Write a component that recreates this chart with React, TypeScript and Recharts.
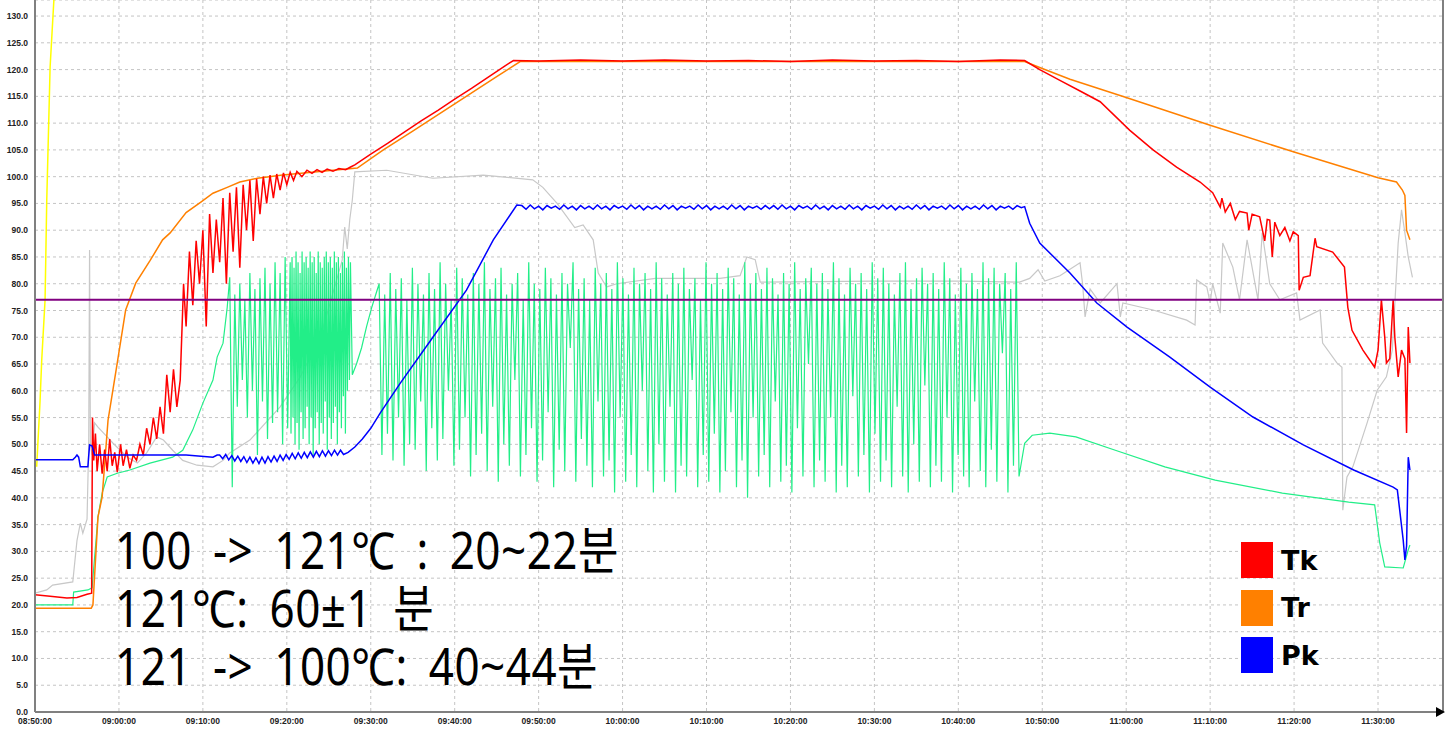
import React from 'react';
import {
  LineChart, Line, XAxis, YAxis, CartesianGrid, ReferenceLine, ReferenceDot,
} from 'recharts';

// ---------------------------------------------------------------------------
// Axes (x = minutes after 08:50:00)
// ---------------------------------------------------------------------------

const X_MAX = 167.74;
const Y_MAX = 133;
const X_TICKS = [0, 10, 20, 30, 40, 50, 60, 70, 80, 90, 100, 110, 120, 130, 140, 150, 160];
const X_TICK_LABELS = [
  '08:50:00', '09:00:00', '09:10:00', '09:20:00', '09:30:00', '09:40:00', '09:50:00',
  '10:00:00', '10:10:00', '10:20:00', '10:30:00', '10:40:00', '10:50:00',
  '11:00:00', '11:10:00', '11:20:00', '11:30:00',
];
const Y_TICKS = [0, 5, 10, 15, 20, 25, 30, 35, 40, 45, 50, 55, 60, 65, 70, 75, 80, 85, 90, 95, 100, 105, 110, 115, 120, 125, 130];
const SETPOINT = 77;

// ---------------------------------------------------------------------------
// Series  [minute, value]
// ---------------------------------------------------------------------------

const YELLOW: [number, number][] = [
  [0.2, 45.8], [0.6, 58], [0.8, 65.7], [1.2, 77], [1.4, 95.6], [1.8, 120.5], [2.25, 133],
];

const GRAY: [number, number][] = [
  [0, 22.2], [1.4, 22.8], [2.1, 23.7], [4.5, 24.3], [5.0, 32], [5.4, 35.3], [5.7, 33.4],
  [6.2, 36], [6.4, 50], [6.5, 86.3], [6.6, 50], [6.8, 48], [7.1, 54], [7.5, 53.2],
  [8.6, 51.4], [9.3, 50.2], [11.0, 47.6], [12.2, 46.5], [13.3, 48.4], [14.5, 51.4],
  [15.3, 50.8], [16.4, 48.9], [17.6, 47], [19.3, 46.1], [21.2, 45.8], [22.4, 47],
  [23.2, 48.4], [25.6, 50.8], [29.2, 57], [31.6, 62.6], [34.0, 70], [35.5, 78.3],
  [36.6, 84.4], [36.9, 90.6], [37.2, 86.5], [37.5, 92], [37.8, 95.6], [38.1, 100.9],
  [41.9, 101.2], [47.4, 99.7], [53.4, 100.3], [59.3, 99.4], [60.5, 98], [62.2, 95],
  [64.3, 90.5], [65.3, 91], [66.5, 88.2], [67.1, 82], [68.1, 79.4], [69.3, 80],
  [73.9, 81], [81.6, 81], [84.0, 81.5], [84.8, 85], [85.8, 84.5], [86.4, 80.3],
  [99.8, 80.5], [110.5, 80.5], [117.3, 80.3], [118.5, 81], [119.5, 82.6], [120.3, 80.5],
  [122.1, 81.5], [124.5, 83.9], [124.8, 80], [125.1, 73.8], [125.7, 79], [126.9, 76.4],
  [128.9, 80], [129.3, 73.8], [129.6, 76.4], [133.2, 75.1], [137.2, 73.2], [138.2, 72.3],
  [138.4, 80.7], [139.6, 79.4], [140.0, 76.4], [140.3, 80], [141.2, 74.5], [141.5, 87.6],
  [142.7, 83.1], [143.5, 77], [144.4, 88.2], [145.7, 77], [146.2, 89.5], [147.1, 80],
  [148.3, 77], [150.3, 78.3], [150.7, 73.2], [153.1, 75.1], [153.4, 68.9], [155.1, 65.2],
  [155.7, 64.4], [155.8, 37.7], [156.3, 43.9], [157.0, 45.8], [158.7, 54], [159.9, 60.1],
  [161.0, 62.6], [161.7, 67.6], [162.4, 87.6], [162.8, 93.8], [163.2, 89.5], [163.6, 85],
  [164.1, 81.2],
];

// green: ramp, then cycling, then cool-down
const GREEN_START: [number, number][] = [
  [0, 20], [4.5, 20], [4.6, 22.4], [6.3, 22.8], [6.8, 23.2], [7.5, 36.4], [8.0, 40.9],
  [8.6, 43.9], [9.8, 44.6], [11.3, 45.2], [13.7, 46.5], [16.4, 47.6], [17.6, 48.9],
  [18.8, 52.7], [20.0, 57.7], [21.2, 62], [21.7, 66.3], [22.4, 68.9], [22.9, 75.6], [23.2, 81.2],
];
const GREEN_CYCLE_A_START = 23.5;
const GREEN_CYCLE_A_STEP = 0.3;
const GREEN_CYCLE_A = [
  42, 78, 57, 80, 62, 77, 55, 82, 60, 79, 48, 81, 58, 83, 51, 80, 54, 84, 56, 82, 50, 85, 53, 84,
];
const GREEN_DENSE_START = 30.5;
const GREEN_DENSE_STEP = 0.12;
const GREEN_DENSE = [
  52, 85, 55, 83, 50, 86, 54, 84, 49, 82, 56, 86, 51, 84, 53, 85, 57, 83, 50, 86,
  55, 84, 48, 85, 53, 82, 56, 86, 50, 84, 54, 83, 52, 85, 58, 86, 49, 84, 55, 85,
  51, 83, 54, 86, 57, 84, 50, 85, 56, 82, 53, 84, 59, 86, 52, 83, 60, 85, 62, 84,
];
const GREEN_BRIDGE: [number, number][] = [
  [37.8, 63], [38.3, 65], [38.9, 68], [39.5, 72], [40.1, 75.5], [40.7, 78.5],
];
const GREEN_CYCLE_B_START = 41.0;
const GREEN_CYCLE_B_STEP = 0.33;
const GREEN_CYCLE_B = [
  80, 48, 78, 52, 82, 47, 79, 55, 81, 46, 77, 50, 83, 49, 80, 58, 78, 45, 82, 53,
  79, 47, 84, 51, 80, 60, 77, 46, 83, 49, 81, 55, 78, 44, 82, 48, 80, 52, 84, 45,
  79, 57, 81, 43, 83, 50, 78, 46, 80, 62, 82, 44, 77, 48, 84, 53, 80, 43, 79, 47,
  83, 56, 81, 42, 78, 49, 82, 45, 80, 68, 84, 43, 79, 51, 81, 46, 77, 42, 83, 58,
  80, 44, 82, 47, 79, 41, 84, 55, 81, 43, 78, 48, 83, 42, 80, 60, 82, 45, 79, 41,
  84, 50, 81, 43, 78, 57, 82, 41, 80, 46, 83, 44, 79, 62, 81, 42, 77, 48, 84, 43,
  80, 52, 82, 41, 79, 45, 83, 56, 81, 42, 78, 47, 84, 40, 80, 55, 82, 44, 79, 48,
  83, 42, 81, 58, 78, 43, 82, 46, 80, 41, 84, 53, 79, 44, 81, 65, 83, 42, 80, 47,
  82, 43, 79, 55, 84, 41, 81, 46, 78, 42, 83, 59, 80, 44, 82, 48, 79, 41, 84, 52,
  81, 43, 83, 47, 80, 42, 78, 57, 82, 44, 84, 41, 79, 50, 81, 43, 83, 61, 80, 42,
  82, 46, 79, 43, 84, 55, 81, 41, 78, 48, 83, 44, 80, 42, 82, 58, 79, 45, 84, 42,
  81, 49, 83, 43, 80, 67, 82, 41, 79, 46, 84, 44,
];
const GREEN_END: [number, number][] = [
  [117.9, 50.2], [118.8, 51.7], [120.9, 52.1], [124.0, 51.4], [128.7, 48.9], [134.6, 45.8],
  [140.6, 43.3], [148.6, 40.9], [156.5, 39.2], [159.6, 38.7], [160.2, 31.6], [160.8, 27.1],
  [163.0, 26.9], [163.6, 30.3], [163.8, 31.2],
];

const TK: [number, number][] = [
  [0, 21.9], [1.8, 21.6], [3.8, 21.3], [5.0, 21.4], [6.2, 22], [6.75, 22.2], [6.85, 55],
  [7.0, 47], [7.2, 52], [7.4, 45], [7.7, 50], [8.0, 44.5], [8.3, 49], [8.6, 45], [8.9, 51],
  [9.2, 46], [9.5, 48.5], [9.8, 44.8], [10.2, 50], [10.5, 46], [10.9, 49], [11.3, 45.5],
  [11.7, 48], [12.1, 47], [12.5, 50], [12.9, 48], [13.3, 53], [13.7, 50], [14.1, 55],
  [14.5, 51], [14.9, 57], [15.3, 52], [15.7, 63], [16.1, 56], [16.5, 64], [16.9, 57],
  [17.3, 62], [17.7, 80], [18.0, 72], [18.4, 86], [18.8, 76], [19.2, 88], [19.6, 80],
  [20.0, 90], [20.4, 72], [20.8, 93], [21.2, 82], [21.6, 92], [22.0, 84], [22.4, 96],
  [22.8, 80], [23.2, 97], [23.6, 86], [24.0, 98], [24.4, 83], [24.8, 98.5], [25.2, 90],
  [25.6, 99.3], [26.0, 88], [26.4, 99.6], [26.8, 93], [27.2, 100], [27.6, 95], [28.0, 100.3],
  [28.4, 96], [28.8, 100.5], [29.2, 97.5], [29.6, 100.7], [30.0, 98.5], [30.4, 100.8],
  [30.8, 99.3], [31.2, 101], [31.8, 100], [32.4, 101.2], [33.0, 100.6], [33.6, 101.3],
  [34.2, 100.8], [34.8, 101.4], [35.5, 101], [36.2, 101.5], [37.0, 101.3], [37.6, 101.8],
  [38.1, 102.2], [40, 104.2], [42, 106.2], [44, 108.3], [46, 110.4], [48, 112.4],
  [50, 114.5], [52, 116.5], [54, 118.6], [56, 120.7], [57, 121.7], [60, 121.6], [65, 121.8],
  [70, 121.6], [75, 121.8], [80, 121.6], [85, 121.7], [90, 121.5], [95, 121.8], [100, 121.6],
  [105, 121.7], [110, 121.5], [115, 121.8], [117.9, 121.7], [119.7, 120], [122.1, 118],
  [124.5, 116], [126.9, 114], [130.4, 108.7], [133.2, 105], [136.0, 101.8], [138.8, 99],
  [140.3, 97], [141.2, 94.3], [141.4, 96], [141.8, 93.4], [142.4, 95], [143.0, 92],
  [143.5, 93.5], [144.4, 93.2], [144.6, 90], [145.0, 93], [145.9, 92.5], [146.5, 88],
  [146.8, 92], [147.1, 91.9], [147.4, 85], [147.7, 91.5], [148.3, 89], [148.9, 90.5],
  [149.5, 88], [149.9, 89.7], [150.5, 89], [150.6, 78.8], [151.1, 81.2], [151.9, 81.5],
  [152.5, 88.5], [152.7, 86.9], [154.6, 85.9], [156.0, 83.1], [156.4, 75.6], [156.9, 71.3],
  [158.2, 67.6], [159.6, 64.4], [160.0, 67.6], [160.4, 77], [160.8, 70], [161.0, 65.2],
  [161.4, 66], [161.8, 77], [162.0, 70], [162.4, 62.6], [162.8, 67.6], [163.2, 66],
  [163.4, 52.1], [163.6, 71.9], [163.8, 65.2],
];

const TR: [number, number][] = [
  [0, 19.4], [6.7, 19.4], [6.9, 20], [7.5, 36.4], [8.0, 40.2], [8.7, 54.5], [9.8, 65.2],
  [10.8, 75.1], [12.0, 80.1], [13.7, 84.3], [15.2, 88.2], [16.1, 89.5], [18.0, 93.3],
  [19.8, 95.3], [21.2, 96.9], [22.9, 98], [24.4, 99], [26.5, 99.7], [29.5, 100.3],
  [35.5, 101.2], [38.4, 101.6], [40.3, 103.7], [41.5, 105], [45, 108.5], [50, 113.6],
  [55, 118.7], [57.8, 121.5], [117.9, 121.5], [120, 120.2], [123.3, 118.2], [130, 114.8],
  [140, 109.6], [150, 104.6], [160, 99.8], [162.2, 99], [162.9, 97.5], [163.2, 96.5],
  [163.4, 90], [163.8, 88.2],
];

const PK_START: [number, number][] = [
  [0, 47.1], [4.5, 47.1], [4.8, 47.6], [5.0, 48], [5.2, 47.6], [5.4, 45.8], [6.3, 45.8],
  [6.5, 49.9], [6.8, 49.7], [7.1, 48], [12, 48], [18, 48], [21.2, 47.6], [21.7, 48],
];
const PK_RIPPLE_START = 22.0;
const PK_RIPPLE_STEP = 0.36;
const PK_RIPPLE = [
  48.0, 47.3, 48.1, 47.1, 47.9, 46.9, 47.8, 46.8, 47.7, 46.6, 47.6, 46.5, 47.5, 46.4,
  47.6, 46.5, 47.7, 46.7, 47.8, 46.8, 48.0, 47.0, 48.1, 47.2, 48.3, 47.3, 48.4, 47.4,
  48.5, 47.5, 48.6, 47.6, 48.7, 47.7, 48.8, 47.8, 48.8, 47.9, 48.9, 48.0, 48.9, 48.1,
];
const PK_RISE: [number, number][] = [
  [37.3, 48.5], [38.1, 49.5], [39.0, 51], [40.0, 53], [41.1, 55.8], [43.5, 61.4],
  [47.4, 70], [51.4, 78.8], [54.6, 88.2], [57.4, 94.7],
];
const PK_PLATEAU_START = 58.0;
const PK_PLATEAU_STEP = 0.5;
const PK_PLATEAU = [
  94.6, 93.9, 94.7, 94.0, 94.5, 93.8, 94.6, 94.1, 94.5, 93.9, 94.7, 94.0, 94.5, 93.8, 94.6,
  94.0, 94.5, 93.9, 94.7, 94.0, 94.5, 93.8, 94.6, 94.1, 94.5, 93.9, 94.7, 94.0, 94.6, 93.8,
  94.5, 94.0, 94.5, 93.9, 94.7, 94.0, 94.6, 93.8, 94.5, 94.1, 94.5, 93.9, 94.7, 94.0, 94.6,
  93.8, 94.5, 94.0, 94.5, 93.9, 94.7, 94.0, 94.6, 93.8, 94.5, 94.1, 94.5, 93.9, 94.6, 94.0,
  94.6, 93.9, 94.7, 94.0, 94.5, 93.8, 94.6, 94.1, 94.5, 93.9, 94.7, 94.0, 94.5, 93.8, 94.6,
  94.0, 94.5, 93.9, 94.7, 94.0, 94.5, 93.8, 94.6, 94.1, 94.5, 93.9, 94.7, 94.0, 94.6, 93.8,
  94.5, 94.0, 94.5, 93.9, 94.7, 94.0, 94.6, 93.8, 94.5, 94.1, 94.5, 93.9, 94.7, 94.0, 94.6,
  93.8, 94.5, 94.0, 94.5, 93.9, 94.7, 94.0, 94.6, 93.8, 94.5, 94.1, 94.5, 93.9, 94.6, 94.2,
];
const PK_END: [number, number][] = [
  [117.9, 94.4], [118.5, 91.3], [119.7, 87.6], [123.3, 82], [126.5, 76.4], [130.1, 71.9],
  [135.2, 66.3], [140.0, 60.7], [145.1, 55.1], [151.1, 49.9], [157.1, 45.2], [161.8, 42],
  [162.3, 41.5], [163.0, 32.1], [163.2, 28.4], [163.4, 31], [163.6, 47.6], [163.8, 45.2],
];

const NOTES = ['100 -> 121℃ : 20~22분', '121℃: 60±1 분', '121 -> 100℃: 40~44분'];
const LEGEND = [
  { name: 'Tk', color: '#ff0000' },
  { name: 'Tr', color: '#ff8000' },
  { name: 'Pk', color: '#0000ff' },
];

// ---------------------------------------------------------------------------
// Helpers
// ---------------------------------------------------------------------------

const pts = (arr: [number, number][]) => arr.map(([t, v]) => ({ t, v }));
const stepped = (start: number, step: number, vals: number[]) =>
  vals.map((v, i) => ({ t: +(start + i * step).toFixed(3), v }));

const greenData = [
  ...pts(GREEN_START),
  ...stepped(GREEN_CYCLE_A_START, GREEN_CYCLE_A_STEP, GREEN_CYCLE_A),
  ...stepped(GREEN_DENSE_START, GREEN_DENSE_STEP, GREEN_DENSE),
  ...pts(GREEN_BRIDGE),
  ...stepped(GREEN_CYCLE_B_START, GREEN_CYCLE_B_STEP, GREEN_CYCLE_B),
  ...pts(GREEN_END),
];

const pkData = [
  ...pts(PK_START),
  ...stepped(PK_RIPPLE_START, PK_RIPPLE_STEP, PK_RIPPLE),
  ...pts(PK_RISE),
  ...stepped(PK_PLATEAU_START, PK_PLATEAU_STEP, PK_PLATEAU),
  ...pts(PK_END),
];

const xLabel = (v: number) => X_TICK_LABELS[X_TICKS.indexOf(v)] ?? '';

function Arrow(props: any) {
  const { cx, cy } = props;
  return <path d={`M${cx - 7},${cy - 5}L${cx + 2},${cy}L${cx - 7},${cy + 5}Z`} fill="#000" />;
}

const tickFont = { fontSize: 8.5, fill: '#222', fontFamily: 'Liberation Sans', fontWeight: 700 };

export default function App() {
  return (
    <div style={{ position: 'relative', width: 1456, height: 729, background: '#fff' }}>
      <style>{'body{margin:0;background:#fff}'}</style>
      <LineChart width={1456} height={729} margin={{ top: 0, right: 13, bottom: 0, left: 0 }}>
        <CartesianGrid stroke="#c4c4c4" strokeDasharray="3 3" />
        <XAxis
          type="number" dataKey="t" domain={[0, X_MAX]} ticks={X_TICKS} interval={0}
          tickFormatter={xLabel} height={17} tickSize={4} tickLine={false}
          axisLine={{ stroke: '#808080', strokeWidth: 2 }} tick={tickFont} allowDataOverflow
        />
        <YAxis
          type="number" domain={[0, Y_MAX]} ticks={Y_TICKS} interval={0}
          tickFormatter={(v: number) => v.toFixed(1)} width={35} tickSize={5} tickLine={false}
          axisLine={{ stroke: '#808080', strokeWidth: 2 }} tick={tickFont} allowDataOverflow
        />

        <Line data={pts(YELLOW)} dataKey="v" type="linear" stroke="#ffff00" strokeWidth={1.5} dot={false} isAnimationActive={false} />
        <Line data={pts(GRAY)} dataKey="v" type="linear" stroke="#c8c8c8" strokeWidth={1.2} dot={false} isAnimationActive={false} />
        <Line data={greenData} dataKey="v" type="linear" stroke="#22ee88" strokeWidth={1.2} dot={false} isAnimationActive={false} />
        <Line data={pts(TR)} dataKey="v" type="linear" stroke="#ff8000" strokeWidth={1.5} dot={false} isAnimationActive={false} />
        <Line data={pts(TK)} dataKey="v" type="linear" stroke="#ff0000" strokeWidth={1.5} dot={false} isAnimationActive={false} />
        <Line data={pkData} dataKey="v" type="linear" stroke="#0000ff" strokeWidth={1.5} dot={false} isAnimationActive={false} />

        <ReferenceLine y={SETPOINT} stroke="#800080" strokeWidth={2} />
        <ReferenceLine x={X_MAX} stroke="#808080" strokeWidth={2} />
        <ReferenceDot x={X_MAX} y={0} r={0} ifOverflow="visible" shape={<Arrow />} />
      </LineChart>

      {NOTES.map((line, i) => (
        <div
          key={line}
          style={{
            position: 'absolute', left: 115, top: 524 + i * 58,
            fontFamily: "'Noto Sans', 'Noto Sans CJK KR', sans-serif", fontSize: 44, lineHeight: 1,
            color: '#000', whiteSpace: 'pre', wordSpacing: 9, letterSpacing: 0.5,
            transform: 'scaleY(1.15)', transformOrigin: 'left top',
          }}
        >
          {line}
        </div>
      ))}

      {LEGEND.map((item, i) => (
        <div key={item.name} style={{ position: 'absolute', left: 1241, top: 542 + i * 47.5, display: 'flex', alignItems: 'center' }}>
          <div style={{ width: 32, height: 36, background: item.color }} />
          <span style={{ marginLeft: 8, fontFamily: 'DejaVu Sans', fontWeight: 700, fontSize: 27, lineHeight: 1, color: '#000' }}>
            {item.name}
          </span>
        </div>
      ))}
    </div>
  );
}
